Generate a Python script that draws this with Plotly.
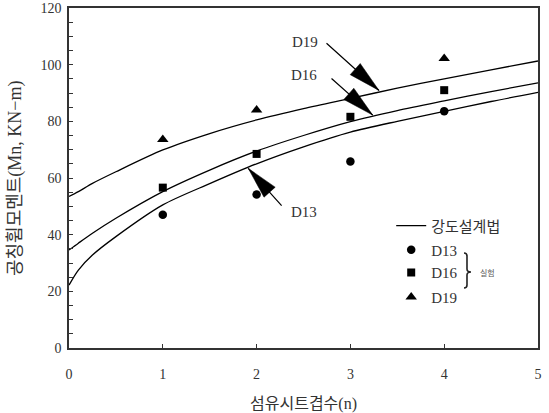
import numpy as np
import plotly.graph_objects as go

# ---- data ----
curve_x = [0, 0.1, 0.25, 0.5, 1, 1.5, 2, 2.5, 3, 3.5, 4, 4.5, 5]
curve_d19 = [53.5, 55.2, 58.1, 62.2, 69.9, 75.7, 80.5, 84.5, 88.1, 91.7, 95.0, 98.2, 101.3]
curve_d16 = [34.6, 37.0, 40.5, 45.8, 55.2, 62.8, 69.5, 75.0, 79.9, 83.8, 87.2, 90.5, 93.6]
curve_d13 = [22.2, 27.5, 32.8, 39.3, 50.5, 58.0, 65.0, 71.0, 76.2, 80.0, 83.5, 87.0, 90.2]

test_n = [1, 2, 3, 4]
test_d13 = [47.0, 54.2, 65.8, 83.6]
test_d16 = [56.6, 68.5, 81.6, 91.0]
test_d19 = [73.6, 84.0, None, 102.2]

x_ticks = [0, 1, 2, 3, 4, 5]
y_ticks = [0, 20, 40, 60, 80, 100, 120]

FONT = "Liberation Serif, Noto Sans CJK KR, serif"
KFONT = "Noto Sans CJK KR, Liberation Serif, sans-serif"
TXT = "#333333"

fig = go.Figure()

for i, ys in enumerate([curve_d19, curve_d16, curve_d13]):
    fig.add_trace(go.Scatter(
        x=curve_x, y=ys, mode="lines",
        line=dict(color="black", width=1.3, shape="spline", smoothing=0.8),
        name="강도설계법", showlegend=(i == 0), legend="legend",
        hoverinfo="skip"))

fig.add_trace(go.Scatter(x=test_n, y=test_d13, mode="markers", name="D13",
                         marker=dict(symbol="circle", size=8.5, color="black"),
                         legend="legend2"))
fig.add_trace(go.Scatter(x=test_n, y=test_d16, mode="markers", name="D16",
                         marker=dict(symbol="square", size=8, color="black"),
                         legend="legend3"))
fig.add_trace(go.Scatter(x=test_n, y=test_d19, mode="markers", name="D19",
                         marker=dict(symbol="triangle-up", size=10, color="black"),
                         legend="legend4"))

# ---- annotations: arrows and labels ----
arrows = [
    # label, label pos (data), tip (data), tail offset (px, screen)
    ("D19", (2.52, 108.0), (3.305, 90.9), (-54, -48.5)),
    ("D16", (2.51, 96.4), (3.238, 82.2), (-42.7, -38)),
    ("D13", (2.51, 48.0), (1.911, 63.4), (34.7, 38.7)),
]
HEAD_L, HEAD_W = 32, 15
for lab, lp, tip, off in arrows:
    fig.add_annotation(x=lp[0], y=lp[1], text=lab, showarrow=False,
                       font=dict(family=FONT, size=15, color=TXT))
    fig.add_annotation(x=tip[0], y=tip[1], ax=off[0], ay=off[1], text="",
                       showarrow=True, arrowhead=0, arrowwidth=1.2,
                       arrowcolor="black", standoff=0, startstandoff=0)
    u = -np.array(off, dtype=float)
    u /= np.linalg.norm(u)          # direction tail->tip (screen coords)
    perp = np.array([-u[1], u[0]])
    mid = -HEAD_L * u
    p1 = mid + HEAD_W / 2 * perp
    p2 = mid - HEAD_W / 2 * perp
    path = f"M0,0 L{p1[0]:.2f},{-p1[1]:.2f} L{p2[0]:.2f},{-p2[1]:.2f} Z"
    fig.add_shape(type="path", path=path, xsizemode="pixel", ysizemode="pixel",
                  xanchor=tip[0], yanchor=tip[1], xref="x", yref="y",
                  fillcolor="black", line=dict(color="black", width=0.5))

# brace and '실험'
brace = "M-3,19 Q0,19 0,16 L0,3 Q0,0 4,0 Q0,0 0,-3 L0,-13 Q0,-16 -3,-16"
fig.add_shape(type="path", path=brace, xsizemode="pixel", ysizemode="pixel",
              xref="paper", yref="paper", xanchor=0.8486, yanchor=0.2235,
              line=dict(color="#222222", width=1.6))
fig.add_annotation(x=0.872, y=0.2206, xref="paper", yref="paper", text="실험",
                   showarrow=False, xanchor="left", yanchor="middle",
                   font=dict(family=KFONT, size=8, color="#555555"))

# axis titles
fig.add_annotation(x=0.5, y=-0.165, xref="paper", yref="paper",
                   xanchor="center", yanchor="middle",
                   text="섬유시트겹수(n)", showarrow=False,
                   font=dict(family=FONT, size=16, color=TXT))
fig.add_annotation(x=-0.1151, y=0.5, xref="paper", yref="paper",
                   xanchor="center", yanchor="middle",
                   text="공칭휨모멘트(Mn, KN−m)", showarrow=False, textangle=-90,
                   font=dict(family=FONT, size=18, color=TXT))

leg_common = dict(x=0.687, xanchor="left", yanchor="middle", bgcolor="rgba(0,0,0,0)",
                  borderwidth=0, itemwidth=30,
                  font=dict(family=FONT, size=15, color=TXT))
fig.update_layout(
    width=549, height=413,
    margin=dict(l=69, r=11, t=8, b=65),
    paper_bgcolor="white", plot_bgcolor="white",
    showlegend=True,
    legend=dict(y=0.359, **leg_common),
    legend2=dict(y=0.288, **leg_common),
    legend3=dict(y=0.221, **leg_common),
    legend4=dict(y=0.149, **leg_common),
    xaxis=dict(range=[0, 5], tickvals=x_ticks, ticks="inside", ticklen=4,
               tickcolor="#333", showline=True, linecolor="#333", linewidth=1.6,
               mirror=True, showgrid=False, zeroline=False, automargin=False,
               tickfont=dict(family=FONT, size=14, color=TXT),
               ticklabelstandoff=12),
    yaxis=dict(range=[0, 120], tickvals=y_ticks, ticks="inside", ticklen=4,
               tickcolor="#333", showline=True, linecolor="#333", linewidth=1.6,
               mirror=True, showgrid=False, zeroline=False, automargin=False,
               minor=dict(dtick=5, ticks="inside", ticklen=4, tickcolor="#333"),
               tickfont=dict(family=FONT, size=14, color=TXT),
               ticklabelstandoff=3),
)

fig.write_html("out.html")
